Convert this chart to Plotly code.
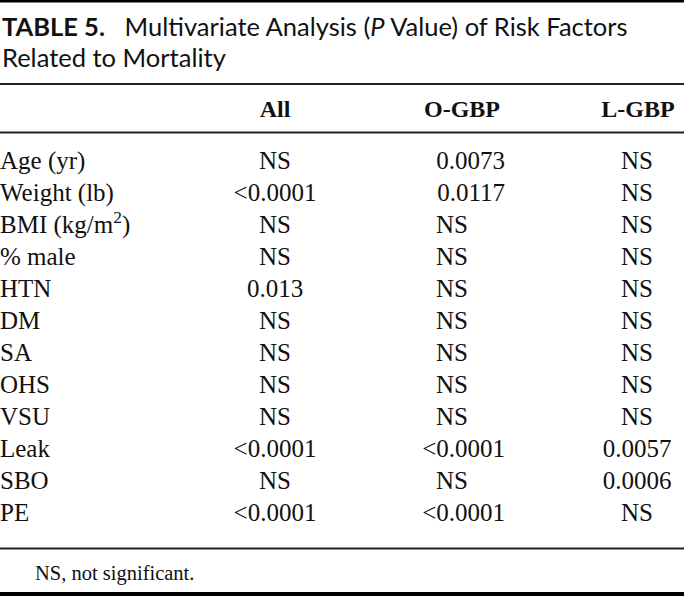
import plotly.graph_objects as go

# ---- data ----
title_bold = "TABLE 5."
title_rest = "Multivariate Analysis (<i>P</i> Value) of Risk Factors"
title_line2 = "Related to Mortality"
columns = ["All", "O-GBP", "L-GBP"]
factors = ["Age (yr)", "Weight (lb)", "BMI (kg/m<sup>2</sup>)", "% male", "HTN", "DM",
           "SA", "OHS", "VSU", "Leak", "SBO", "PE"]
p_all = ["NS", "<0.0001", "NS", "NS", "0.013", "NS", "NS", "NS", "NS", "<0.0001", "NS", "<0.0001"]
p_open = ["0.0073", "0.0117", "NS", "NS", "NS", "NS", "NS", "NS", "NS", "<0.0001", "NS", "<0.0001"]
p_lap = ["NS", "NS", "NS", "NS", "NS", "NS", "NS", "NS", "NS", "0.0057", "0.0006", "NS"]
footnote = "NS, not significant."

# ---- layout constants ----
W, H = 684, 596
SERIF = "Liberation Serif, Times New Roman, serif"
SANS = "Lato, Open Sans, sans-serif"
BODY = 25
row0, pitch = 163, 32.0
row_y = [row0 + i * pitch for i in range(len(factors))]
col_x = [275, 462, 638]

fig = go.Figure()

fig.add_trace(go.Scatter(x=[0] * len(factors), y=row_y, text=factors, mode="text",
                         textposition="middle right",
                         textfont=dict(family=SERIF, size=BODY, color="#111")))

def col_trace(vals, cx, right_edge=None):
    xs, pos = [], []
    for v in vals:
        if right_edge is not None and v != "NS":
            xs.append(right_edge); pos.append("middle left")
        else:
            xs.append(cx); pos.append("middle center")
    return xs, pos

for vals, cx, re in [(p_all, 275, None), (p_open, 452, 505), (p_lap, 637, None)]:
    disp = [v.replace("<", "&lt;") for v in vals]
    xs, pos = col_trace(vals, cx, re)
    fig.add_trace(go.Scatter(x=xs, y=row_y, text=disp, mode="text", textposition=pos,
                             textfont=dict(family=SERIF, size=BODY, color="#111")))

fig.add_trace(go.Scatter(x=col_x, y=[111] * 3, text=["<b>%s</b>" % c for c in columns],
                         mode="text", textposition="middle center",
                         textfont=dict(family=SERIF, size=24, color="#111")))

ann = []
ann.append(dict(x=0, y=26, xref="x", yref="y", xanchor="left", yanchor="middle", showarrow=False,
                text="<b>%s</b>   %s" % (title_bold, title_rest),
                font=dict(family=SANS, size=25.5, color="#111")))
ann.append(dict(x=0, y=57, xref="x", yref="y", xanchor="left", yanchor="middle", showarrow=False,
                text=title_line2, font=dict(family=SANS, size=25.5, color="#111")))
ann.append(dict(x=33, y=573, xref="x", yref="y", xanchor="left", yanchor="middle", showarrow=False,
                text=footnote, font=dict(family=SERIF, size=20.5, color="#111")))

shapes = [
    dict(type="rect", x0=0, x1=W, y0=0, y1=2.5, fillcolor="#000", line_width=0),
    dict(type="line", x0=0, x1=W, y0=84, y1=84, line=dict(color="#222", width=2)),
    dict(type="line", x0=0, x1=W, y0=132.5, y1=132.5, line=dict(color="#222", width=2)),
    dict(type="line", x0=0, x1=W, y0=548.5, y1=548.5, line=dict(color="#222", width=2)),
    dict(type="rect", x0=0, x1=W, y0=592, y1=596, fillcolor="#000", line_width=0),
]

fig.update_layout(width=W, height=H, margin=dict(l=0, r=0, t=0, b=0),
                  paper_bgcolor="white", plot_bgcolor="white", showlegend=False,
                  annotations=ann, shapes=shapes,
                  xaxis=dict(range=[0, W], visible=False, fixedrange=True),
                  yaxis=dict(range=[H, 0], visible=False, fixedrange=True))
fig.write_html("out.html", config={"displayModeBar": False, "staticPlot": True})

with open("out.html", "r", encoding="utf-8") as f:
    html = f.read()
html = html.replace("<body>", '<body style="margin:0;padding:0;overflow:hidden">', 1)
with open("out.html", "w", encoding="utf-8") as f:
    f.write(html)
